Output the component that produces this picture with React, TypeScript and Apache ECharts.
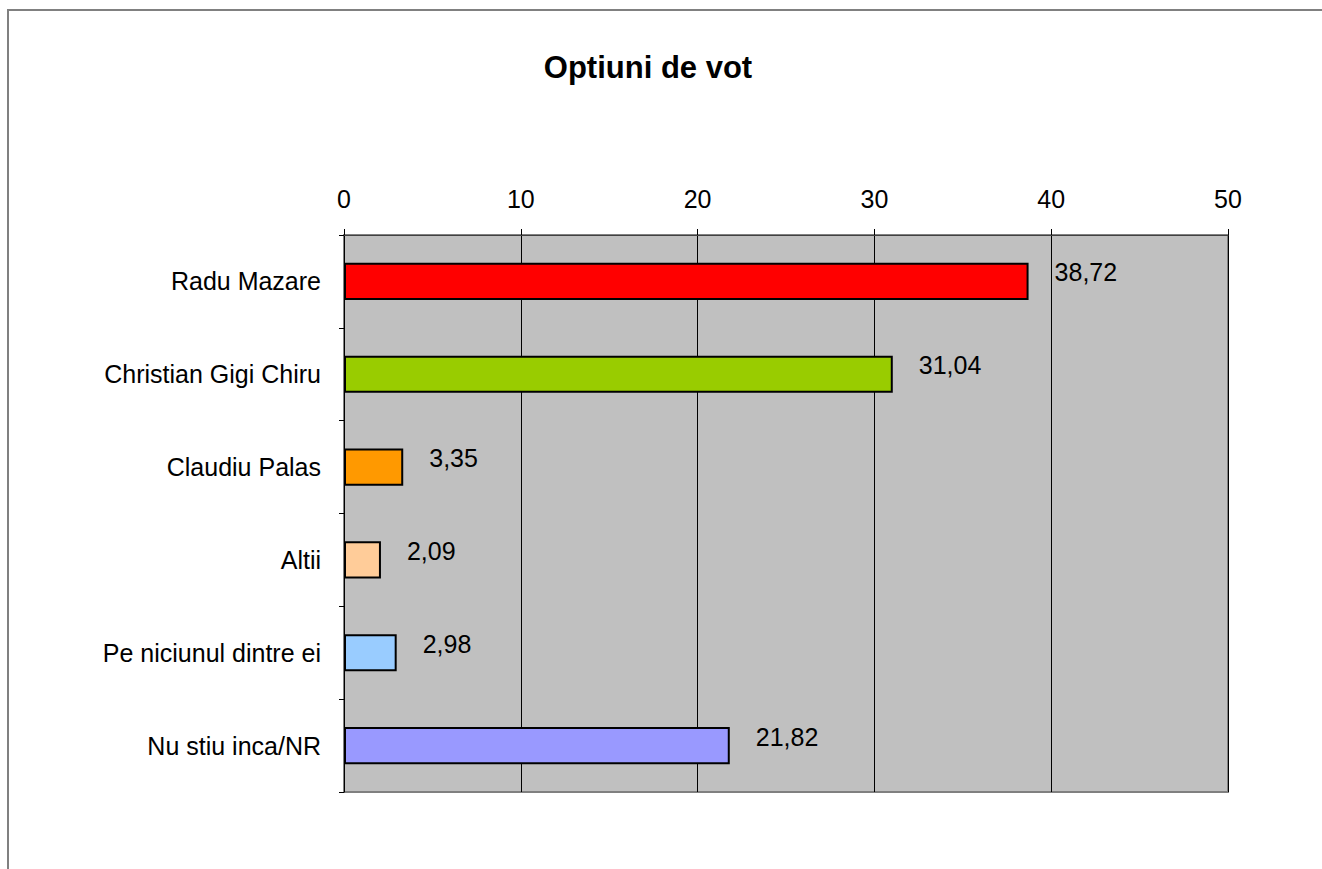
import React, { useEffect, useRef } from "react";
import * as echarts from "echarts";

const categories = ["Radu Mazare", "Christian Gigi Chiru", "Claudiu Palas", "Altii", "Pe niciunul dintre ei", "Nu stiu inca/NR"];
const values = [38.72, 31.04, 3.35, 2.09, 2.98, 21.82];
const colors = ["#FF0000", "#99CC00", "#FF9900", "#FFCC99", "#99CCFF", "#9999FF"];
const title = "Optiuni de vot";

export default function App() {
  const ref = useRef<HTMLDivElement>(null);
  useEffect(() => {
    const chart = echarts.init(ref.current!, null, { renderer: "svg" });
    const font = "Liberation Sans, Arial, sans-serif";
    chart.setOption({
      animation: false,
      backgroundColor: "#ffffff",
      title: {
        text: title,
        left: 643,
        top: 47,
        textAlign: "center",
        textStyle: { fontFamily: font, fontSize: 31, fontWeight: "bold", color: "#000" },
      },
      graphic: [
        {
          type: "rect",
          shape: { x: 8, y: 10, width: 1330, height: 880 },
          style: { fill: "none", stroke: "#808080", lineWidth: 2 },
          silent: true,
          z: 0,
        },
      ],
      grid: {
        left: 344,
        right: 94,
        top: 235,
        bottom: 77,
        show: true,
        backgroundColor: "#c0c0c0",
        borderColor: "#808080",
        borderWidth: 2,
      },
      xAxis: {
        type: "value",
        position: "top",
        min: 0,
        max: 50,
        interval: 10,
        axisLine: { show: true, lineStyle: { color: "#404040", width: 1 } },
        axisTick: { show: true, length: 6, lineStyle: { color: "#000" } },
        axisLabel: { fontFamily: font, fontSize: 25, color: "#000", margin: 24 },
        splitLine: { show: true, lineStyle: { color: "#000", width: 1 } },
      },
      yAxis: {
        type: "category",
        inverse: true,
        data: categories,
        axisLine: { show: true, lineStyle: { color: "#000", width: 1 } },
        axisTick: { show: true, length: 5, lineStyle: { color: "#000" } },
        axisLabel: { fontFamily: font, fontSize: 25, color: "#000", margin: 23 },
      },
      series: [
        {
          type: "bar",
          data: values.map((v, i) => ({
            value: v,
            itemStyle: { color: colors[i], borderColor: "#000", borderWidth: 2 },
          })),
          barWidth: "40%",
          label: {
            show: true,
            position: "right",
            distance: 26,
            offset: [0, -9],
            fontFamily: font,
            fontSize: 25,
            color: "#000",
            formatter: (p: any) => String(p.value).replace(".", ","),
          },
        },
      ],
    });
    return () => chart.dispose();
  }, []);
  return (
    <div
      ref={ref}
      style={{ position: "fixed", left: 0, top: 0, width: 1322, height: 869 }}
    />
  );
}
